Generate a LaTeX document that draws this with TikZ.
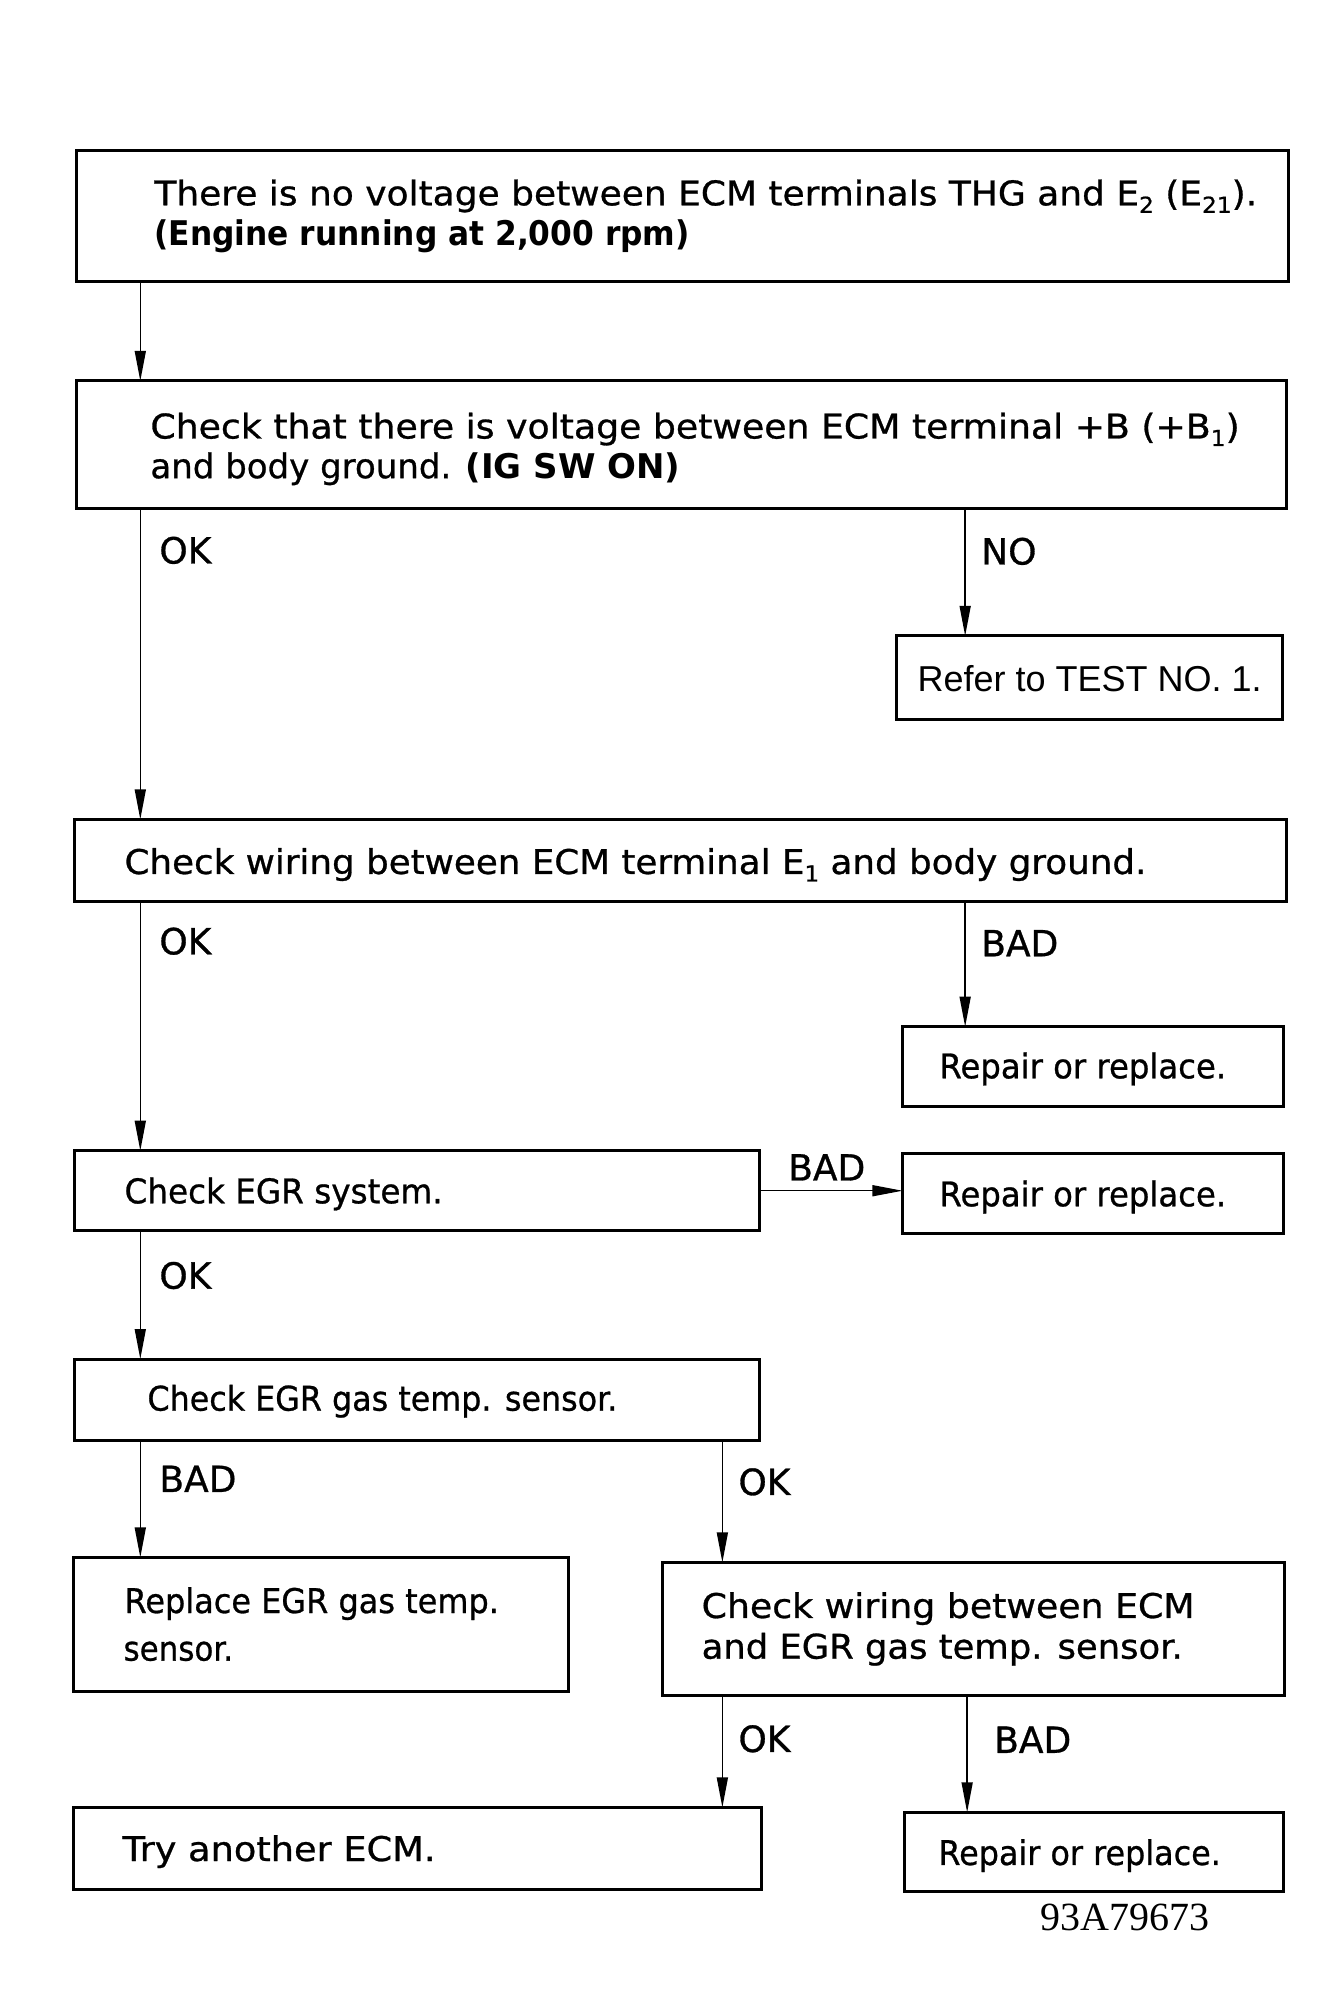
\documentclass[tikz,border=0pt]{standalone}
\usepackage{fontspec}
\setmainfont{DejaVu Sans}
\newfontfamily\medf{DejaVu Sans}[FakeBold=0.8]
\newfontfamily\arialf{Liberation Sans}
\newfontfamily\timesf{Liberation Serif}
\usetikzlibrary{arrows.meta}
\newcommand\sbs[1]{\raisebox{-0.22em}{\fontsize{22}{22}\selectfont #1}}
\newcommand\sx[2]{\scalebox{#1}[1]{#2}}
\newcommand\fbx[5]{\node[box, anchor=north west, minimum width=#4-#2, minimum height=#5-#3] (#1) at (#2,#3) {};}
\begin{document}
\begin{tikzpicture}[x=0.995pt,y=-0.992pt,
  box/.style={draw, line width=3pt, rectangle, inner sep=0pt, outer sep=0pt},
  arr/.style={line width=1.5pt, -{Triangle[length=30pt,width=11pt]}},
  txt/.style={anchor=base west, inner sep=0pt, font=\fontsize{34}{40}\medf},
  lbl/.style={anchor=base west, inner sep=0pt, font=\fontsize{36}{40}\medf}]
\useasboundingbox (0,0) rectangle (1328.64,2024.19);
% boxes
\fbx{b1}{77}{152}{1289}{283}
\fbx{b2}{77}{384}{1287}{512}
\fbx{refer}{901}{641}{1287}{725}
\fbx{b3}{75}{826}{1287}{908}
\fbx{repA}{907}{1035}{1288}{1115}
\fbx{b4}{75}{1160}{760}{1240}
\fbx{repB}{907}{1163}{1288}{1243}
\fbx{b5}{75}{1370}{760}{1451}
\fbx{replace}{74}{1570}{569}{1704}
\fbx{wiring}{666}{1575}{1288}{1708}
\fbx{try}{74}{1822}{762}{1904}
\fbx{repC}{909}{1827}{1288}{1906}
% texts
\node[txt] (t1a) at (155,207) {\sx{1.058}{There is no voltage between ECM terminals THG and E\sbs{2} (E\sbs{21}).}};
\node[txt, font=\fontsize{34}{40}\selectfont\bfseries] (t1b) at (155,247) {\sx{0.92}{(Engine running at 2,000 rpm)}};
\node[txt] (t2a) at (151,442) {\sx{1.065}{Check that there is voltage between ECM terminal +B (+B\sbs{1})}};
\node[txt] (t2b) at (151,482) {\sx{1.0}{and body ground. {\normalfont\bfseries (IG SW ON)}}};
\node[txt, font=\fontsize{36}{40}\selectfont\arialf] (tref) at (922,697) {Refer to TEST NO. 1.};
\node[txt] (t3) at (125,881) {\sx{1.05}{Check wiring between ECM terminal E\sbs{1} and body ground.}};
\node[txt] (tA) at (944,1087) {\sx{0.95}{Repair or replace.}};
\node[txt] (t4) at (125,1213) {\sx{0.96}{Check EGR system.}};
\node[txt] (tB) at (944,1216) {\sx{0.95}{Repair or replace.}};
\node[txt] (t5) at (148,1422) {\sx{0.934}{Check EGR gas temp. sensor.}};
\node[txt] (t6a) at (125,1626) {\sx{0.94}{Replace EGR gas temp.}};
\node[txt] (t6b) at (124,1674) {\sx{0.91}{sensor.}};
\node[txt] (t7a) at (705,1631) {\sx{1.066}{Check wiring between ECM}};
\node[txt] (t7b) at (705,1672) {\sx{1.04}{and EGR gas temp. sensor.}};
\node[txt] (t8) at (123,1876) {\sx{1.08}{Try another ECM.}};
\node[txt] (tC) at (943,1880) {\sx{0.936}{Repair or replace.}};
\node[anchor=base west, inner sep=0pt, font=\fontsize{40}{44}\selectfont\timesf] (code) at (1046,1946) {93A79673};
% columns
\coordinate (cA) at (141,0);
\coordinate (cB) at (970,0);
\coordinate (cC) at (726,0);
\coordinate (cD) at (972,0);
% connectors
\draw[arr] (b1.south -| cA) -- (b2.north -| cA);
\draw[arr] (b2.south -| cA) -- (b3.north -| cA);
\draw[arr] (b2.south -| cB) -- (refer.north -| cB);
\draw[arr] (b3.south -| cA) -- (b4.north -| cA);
\draw[arr] (b3.south -| cB) -- (repA.north -| cB);
\draw[arr] (b4.east) -- (repB.west |- b4.east);
\draw[arr] (b4.south -| cA) -- (b5.north -| cA);
\draw[arr] (b5.south -| cA) -- (replace.north -| cA);
\draw[arr] (b5.south -| cC) -- (wiring.north -| cC);
\draw[arr] (wiring.south -| cC) -- (try.north -| cC);
\draw[arr] (wiring.south -| cD) -- (repC.north -| cD);
% labels
\node[lbl] (l1) at (160,568) {OK};
\node[lbl] (l2) at (986,569) {NO};
\node[lbl] (l3) at (160,962) {OK};
\node[lbl] (l4) at (986,964) {BAD};
\node[lbl] (l5) at (792,1190) {BAD};
\node[lbl] (l6) at (160,1299) {OK};
\node[lbl] (l7) at (160,1504) {BAD};
\node[lbl] (l8) at (742,1507) {OK};
\node[lbl] (l9) at (742,1766) {OK};
\node[lbl] (l10) at (999,1767) {BAD};
\end{tikzpicture}
\end{document}
